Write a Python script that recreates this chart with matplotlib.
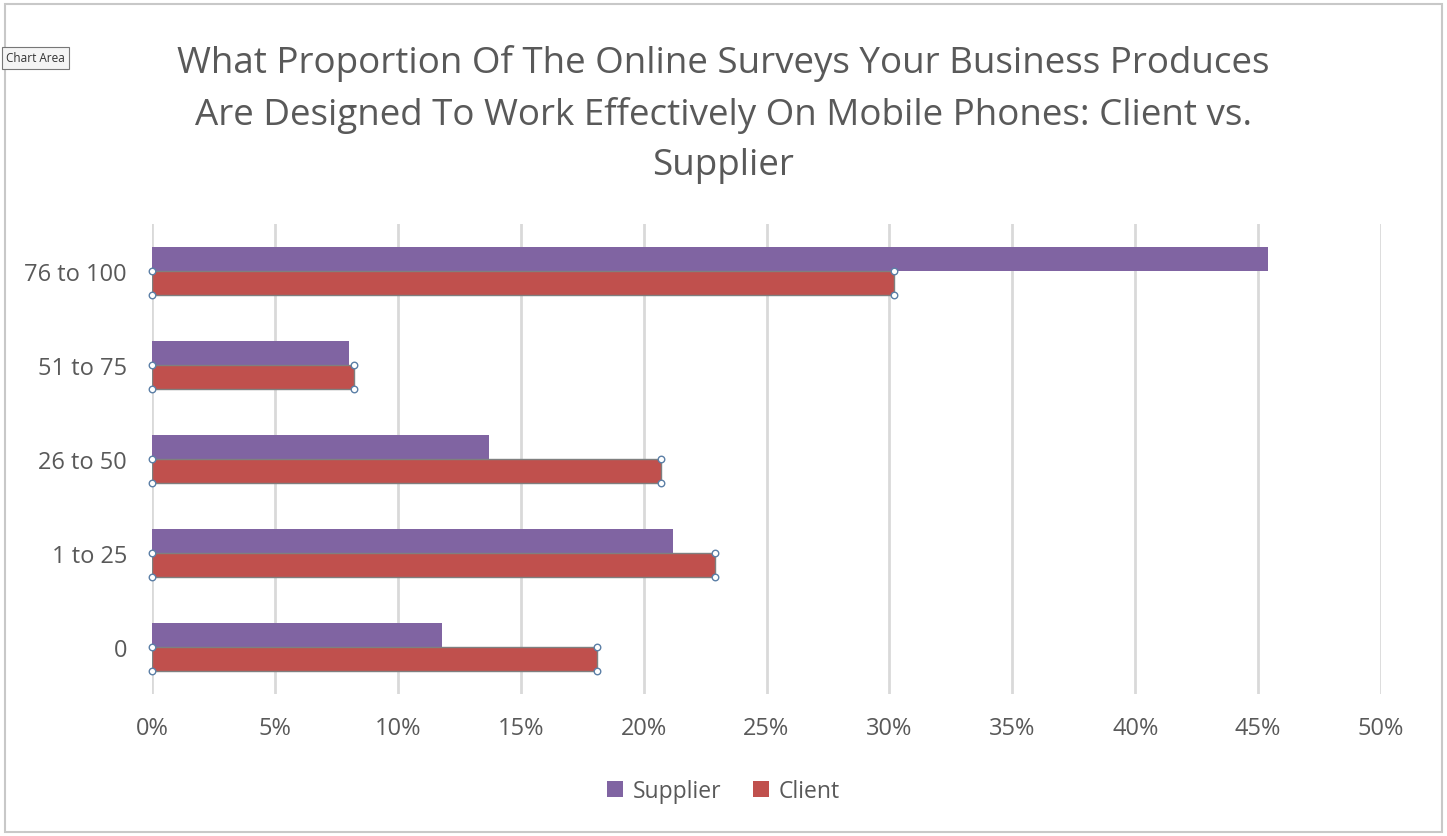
import numpy as np
import matplotlib.pyplot as plt
from matplotlib.patches import Rectangle

categories = ['0', '1 to 25', '26 to 50', '51 to 75', '76 to 100']
supplier = [11.8, 21.2, 13.7, 8.0, 45.4]
client = [18.1, 22.9, 20.7, 8.2, 30.2]
xticks = [0, 5, 10, 15, 20, 25, 30, 35, 40, 45, 50]

purple = '#8064A2'
red = '#C0504D'
textColor = '#595959'

plt.rcParams['font.family'] = ['Open Sans', 'DejaVu Sans']

fig = plt.figure(figsize=(14.47, 8.37), dpi=100)
ax = fig.add_axes([152 / 1447, 142 / 837, 1229 / 1447, 470 / 837])

y = np.arange(len(categories))
h = 0.26
ax.barh(y + h / 2, supplier, height=h, color=purple, label='Supplier', zorder=3)
ax.barh(y - h / 2, client, height=h, color=red, label='Client', zorder=3,
        edgecolor='#7f7f7f', linewidth=1)

# selection handles on the client series
for yi, v in zip(y, client):
    hx = [0, 0, v, v]
    hy = [yi, yi - h, yi, yi - h]
    ax.scatter(hx, hy, s=22, facecolor='white', edgecolor='#5b7fa6',
               linewidth=1, zorder=5, clip_on=False)

ax.set_xlim(0, 50)
ax.set_ylim(-0.5, 4.5)
ax.set_xticks(xticks)
ax.set_xticklabels([f'{t}%' for t in xticks])
ax.set_yticks(y)
ax.set_yticklabels(categories)
ax.grid(axis='x', color='#D9D9D9', linewidth=2, zorder=0)
for s in ax.spines.values():
    s.set_visible(False)
ax.tick_params(length=0, labelsize=17, labelcolor=textColor)
ax.tick_params(axis='x', pad=16)
ax.tick_params(axis='y', pad=18)

fig.text(0.5, 0.946, 'What Proportion Of The Online Surveys Your Business Produces\n'
         'Are Designed To Work Effectively On Mobile Phones: Client vs.\nSupplier',
         ha='center', va='top', fontsize=26.5, color=textColor, linespacing=1.52)

leg = fig.legend(loc='center', bbox_to_anchor=(0.5, 0.054), ncol=2, frameon=False,
                 fontsize=16.5, labelcolor=textColor, handlelength=0.7, handleheight=0.7,
                 handletextpad=0.4, columnspacing=1.4)
for hnd in leg.legend_handles:
    hnd.set_edgecolor('none')

# chart area border
fig.patches.append(Rectangle((5 / 1447, 4 / 837), 1437 / 1447, 828 / 837,
                             transform=fig.transFigure, fill=False,
                             edgecolor='#c8c8c8', linewidth=1.5))

fig.text(6 / 1447, 778 / 837, 'Chart Area', fontsize=8.5, color='#333333', va='center',
         bbox=dict(boxstyle='square,pad=0.35', facecolor='#f4f4f4', edgecolor='#777777',
                   linewidth=0.8))

fig.savefig('out.png', dpi=100)
